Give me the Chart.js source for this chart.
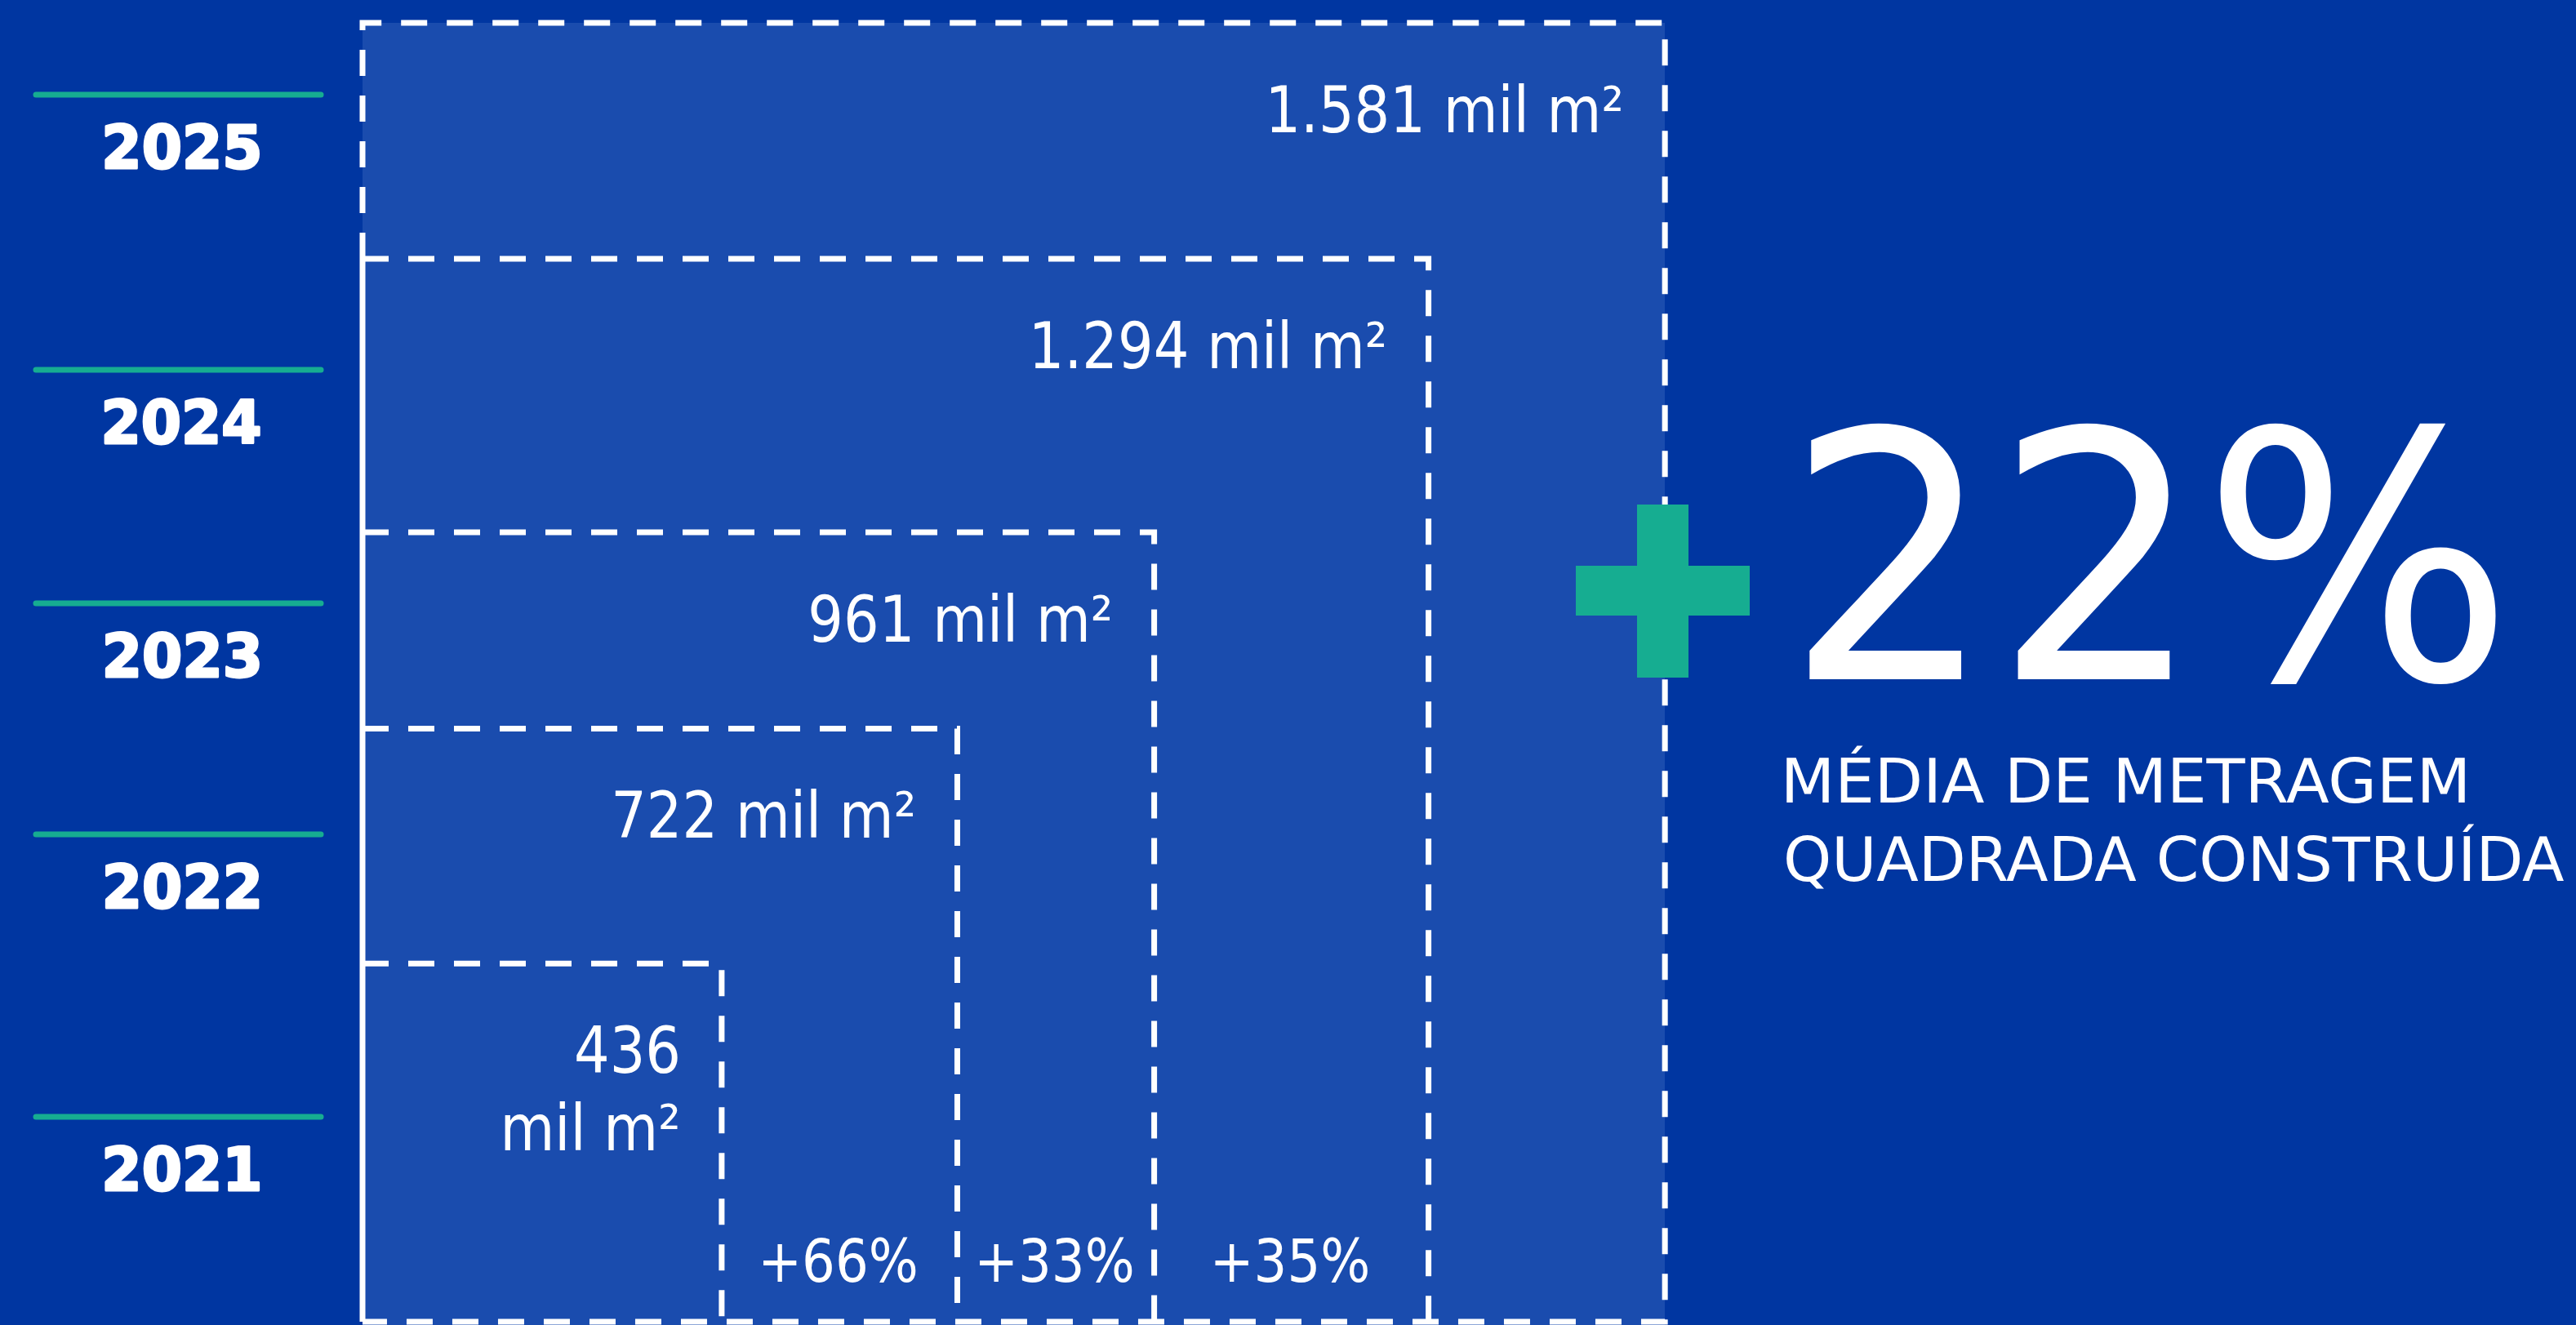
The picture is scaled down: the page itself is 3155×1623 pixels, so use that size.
<!DOCTYPE html>
<html lang="pt-BR">
<head>
<meta charset="utf-8">
<title>Metragem quadrada construída</title>
<script src="https://cdn.jsdelivr.net/npm/chart.js@4.4.1/dist/chart.umd.min.js"></script>
<style>
  html, body { margin: 0; padding: 0; background: #0036a1; overflow: hidden; }
  #grafico { display: block; }
</style>
</head>
<body>
<canvas id="grafico" width="3155" height="1623"></canvas>
<script>
// dados (mil m² construídos por ano)
const anos = ["2021", "2022", "2023", "2024", "2025"];
const areas = [436, 722, 961, 1294, 1581];
const rotulosArea = ["436\nmil m²", "722 mil m²", "961 mil m²", "1.294 mil m²", "1.581 mil m²"];
const crescimentos = ["+66%", "+33%", "+35%"];
const destaque = "22%";
const legendaDestaque = ["MÉDIA DE METRAGEM", "QUADRADA CONSTRUÍDA"];

// estilo
const azulFundo = "#0036a1";
const azulArea = "#1a4cae";
const verde = "#16ad91";
const branco = "#ffffff";
const traco = [32, 24];

// linhas verdes da coluna de anos (px), de 2021 a 2025
const linhaAno = [1368, 1022, 739, 453, 116];

const maior = areas[areas.length - 1];
const segundo = areas[areas.length - 2];

function contorno(v, i) {
    const pts = [{ x: 0, y: v }, { x: v, y: v }, { x: v, y: 0 }];
    if (v === maior) {
        pts.unshift({ x: 0, y: segundo });
        pts.push({ x: 0, y: 0 });
    }
    return {
        label: anos[i],
        data: pts,
        borderColor: branco,
        borderWidth: 7,
        borderDash: traco,
        pointRadius: 0,
        fill: false,
        clip: false
    };
}

const datasets = areas.map(contorno);
// borda esquerda contínua
datasets.push({
    label: "eixo",
    data: [{ x: 0, y: 0 }, { x: 0, y: segundo }],
    borderColor: branco,
    borderWidth: 7,
    pointRadius: 0,
    fill: false,
    clip: false
});
// área preenchida do maior quadrado
datasets.push({
    label: "area",
    data: [{ x: 0, y: maior }, { x: maior, y: maior }],
    borderColor: "rgba(0,0,0,0)",
    borderWidth: 0,
    backgroundColor: azulArea,
    fill: "start",
    pointRadius: 0,
    order: 10,
    clip: false
});

function escreve(ctx, texto, x, y, o) {
    ctx.save();
    ctx.font = `${o.weight || "normal"} ${o.size}px "DejaVu Sans", sans-serif`;
    ctx.fillStyle = branco;
    ctx.textAlign = "left";
    ctx.textBaseline = "alphabetic";
    const m = ctx.measureText(texto);
    const esq = -m.actualBoundingBoxLeft;
    const w = m.actualBoundingBoxRight - esq;
    const s = o.largura ? o.largura / w : (o.squeeze || 1);
    let x0 = x;
    if (o.align === "right") x0 = x - w * s;
    else if (o.align === "center") x0 = x - w * s / 2;
    ctx.translate(x0, y);
    ctx.scale(s, 1);
    ctx.fillText(texto, -esq, 0);
    if (o.contorno) {
        ctx.strokeStyle = branco;
        ctx.lineWidth = o.contorno;
        ctx.lineJoin = "round";
        ctx.strokeText(texto, -esq, 0);
    }
    ctx.restore();
}

const decoracao = {
    id: "decoracao",
    beforeDraw(chart) {
        const ctx = chart.ctx;
        ctx.save();
        ctx.fillStyle = azulFundo;
        ctx.fillRect(0, 0, chart.width, chart.height);
        ctx.restore();
    },
    afterDatasetsDraw(chart) {
        const { ctx, scales: { x, y } } = chart;

        // rótulos de área no canto de cada quadrado
        areas.forEach((v, i) => {
            const xr = x.getPixelForValue(v) - 54;
            const yb = y.getPixelForValue(v) + 134;
            rotulosArea[i].split("\n").forEach((t, k) => {
                escreve(ctx, t, xr, yb + k * 95, { size: 78, squeeze: 0.88, align: "right" });
            });
        });

        // crescimento entre quadrados
        crescimentos.forEach((t, i) => {
            const xc = (x.getPixelForValue(areas[i]) + x.getPixelForValue(areas[i + 1])) / 2;
            escreve(ctx, t, xc, y.getPixelForValue(0) - 49, { size: 73, squeeze: 0.88, align: "center" });
        });

        // coluna de anos
        anos.forEach((a, i) => {
            const ly = linhaAno[i];
            ctx.save();
            ctx.strokeStyle = verde;
            ctx.lineWidth = 7;
            ctx.lineCap = "round";
            ctx.beginPath();
            ctx.moveTo(44, ly);
            ctx.lineTo(393, ly);
            ctx.stroke();
            ctx.restore();
            escreve(ctx, a, 223, ly + 90, { size: 73, weight: "bold", squeeze: 0.97, contorno: 3, align: "center" });
        });

        // destaque +22%
        ctx.save();
        ctx.fillStyle = verde;
        ctx.fillRect(2005, 618, 63, 212);
        ctx.fillRect(1930, 693, 213, 61);
        ctx.restore();
        escreve(ctx, destaque, 2212, 832, { size: 422, largura: 849 });
        escreve(ctx, legendaDestaque[0], 2188, 983, { size: 74, largura: 831 });
        escreve(ctx, legendaDestaque[1], 2188, 1079, { size: 74, largura: 953 });
    }
};

new Chart(document.getElementById("grafico"), {
    type: "line",
    data: { datasets },
    options: {
        responsive: false,
        devicePixelRatio: 1,
        animation: false,
        events: [],
        layout: { padding: { left: 444, right: 7, top: 9, bottom: 0 } },
        scales: {
            x: { type: "linear", min: 0, max: 2680, display: false },
            y: { type: "linear", min: -4, max: 1600, display: false }
        },
        elements: { line: { tension: 0, borderJoinStyle: "miter", borderCapStyle: "butt" } },
        plugins: {
            legend: { display: false },
            tooltip: { enabled: false }
        }
    },
    plugins: [decoracao]
});
</script>
</body>
</html>
